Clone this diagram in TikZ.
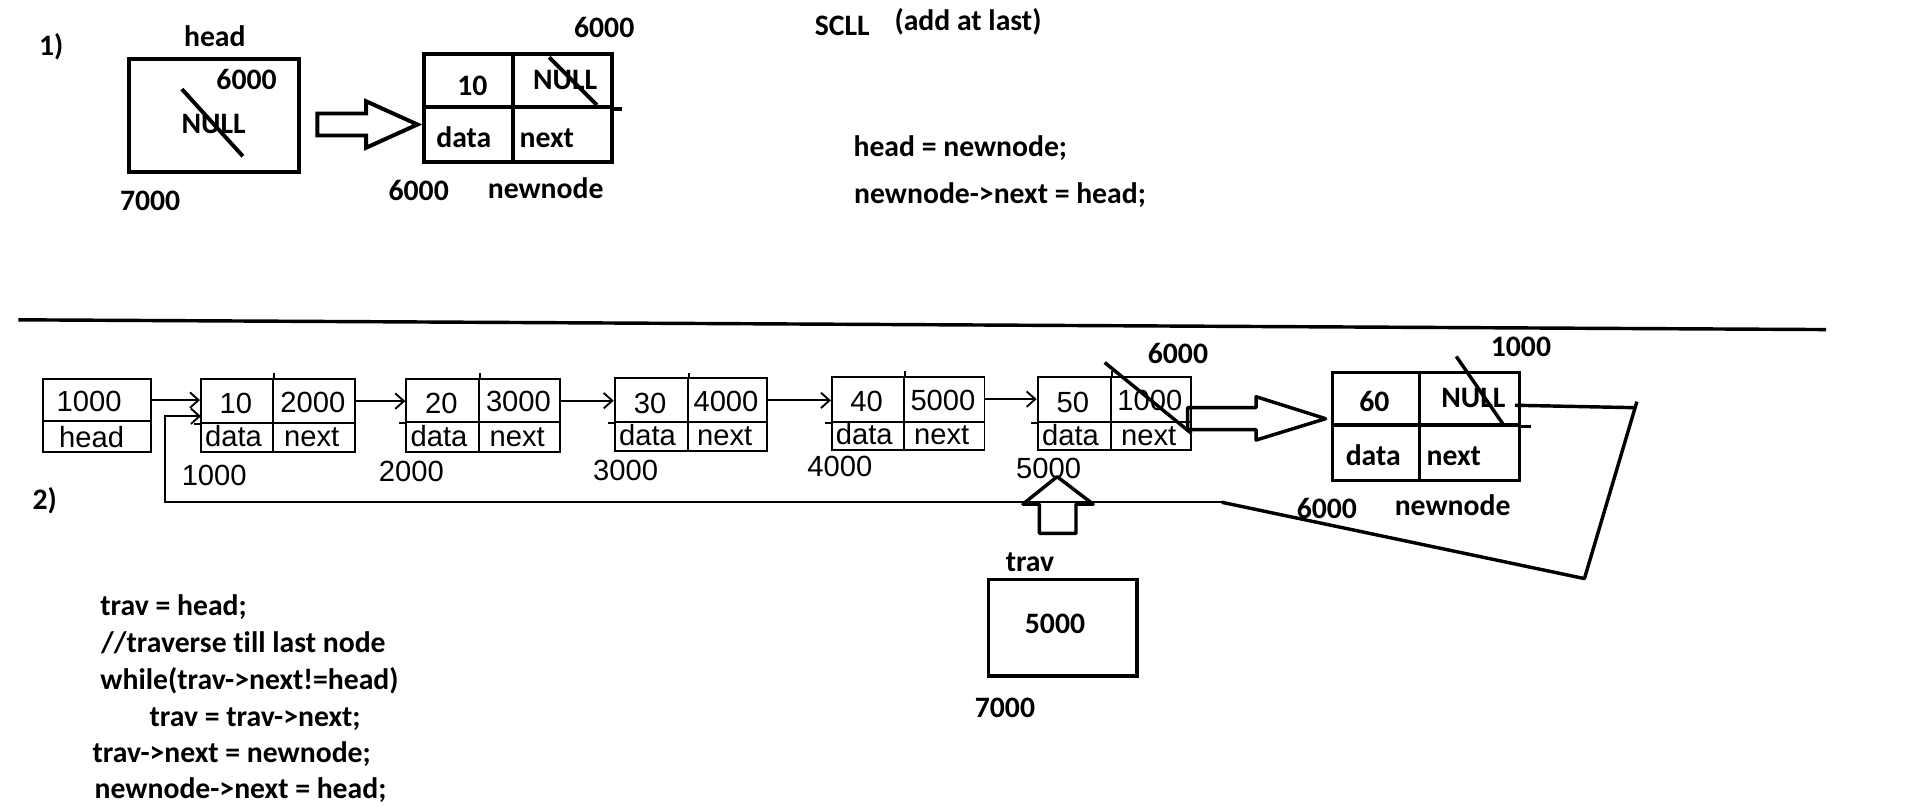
\documentclass[tikz,border=0pt]{standalone}
\usepackage{fontspec}
\setmainfont{Carlito}[Ligatures={TeX,NoCommon}]
\newfontfamily\lstf{Liberation Sans}
\usetikzlibrary{arrows.meta,calc}
\newcommand\U{0.025cm}
\tikzset{
  bt/.style={font=\fontsize{17.3pt}{20pt}\selectfont\bfseries, inner sep=0pt, text height=12pt, text depth=0pt},
  lt/.style={font=\lstf\fontsize{17pt}{20pt}\selectfont, inner sep=0pt, text height=12pt, text depth=0pt},
  thickln/.style={line width=2.3pt},
  thickln2/.style={line width=2pt, line join=round},
  thinln/.style={line width=1.1pt},
  lcell/.style={draw, line width=1.1pt, inner sep=0pt},
  bcell/.style={draw, line width=2.3pt, inner sep=0pt},
  bcell2/.style={draw, line width=2pt, inner sep=0pt},
  larrow/.style={line width=1.1pt, -{Straight Barb[length=5pt,width=9pt]}},
}
\newcommand\lnode[9]{%
 \node[lcell, minimum width={(#3-#2)*\U}, minimum height={(#6-#5)*\U}] (#1d) at ({(#2+#3)/2},{(#5+#6)/2}) {};
 \node[lcell, minimum width={(#4-#3)*\U}, minimum height={(#6-#5)*\U}] (#1n) at ({(#3+#4)/2},{(#5+#6)/2}) {};
 \node[lcell, minimum width={(#3-#2)*\U}, minimum height={(#7-#6)*\U}] (#1dl) at ({(#2+#3)/2},{(#6+#7)/2}) {};
 \node[lcell, minimum width={(#4-#3)*\U}, minimum height={(#7-#6)*\U}] (#1nl) at ({(#3+#4)/2},{(#6+#7)/2}) {};
 \draw[thinln] (#1d.north east) -- ++(0,-4);
 \draw[thinln] (#1d.south west) -- ++(-5,0);
 \node[lt] (#1dt) at ($(#1d.center)+(-1,2)$) {#8};
 \node[lt] (#1nt) at ($(#1n.center)+(-1,0.5)$) {#9};
 \node[lt] (#1dlt) at ($(#1dl.center)+(-3,-1)$) {data};
 \node[lt] (#1nlt) at ($(#1nl.center)+(-2,-1)$) {next};
}
\begin{document}
\begin{tikzpicture}[x=0.025cm,y=-0.025cm]
\fill[white] (0,0) rectangle (1568,663);
\useasboundingbox (0,0) rectangle (1568,663);

% ---------- part 1 ----------
\node[bt] (l1) at (42,37) {1)};
\node[bt] (headlbl) at (176,30) {head};
\node[bcell, minimum width={139*\U}, minimum height={93*\U}] (hbox) at (175.5,94.5) {};
\node[bt] (h6000) at (202,65) {6000};
\node[bt] (hnull) at (175,101) {NULL};
\draw[thickln] (149,73) -- (199,128);
\node[bt] (h7000) at (123,164) {7000};

\draw[thickln] (260,93) -- (300,93) -- (300,83) -- (342,102) -- (300,121) -- (300,111) -- (260,111) -- cycle;

\node[bcell, minimum width={73*\U}, minimum height={43.5*\U}] (nd) at (383.5,65.75) {};
\node[bcell, minimum width={81*\U}, minimum height={43.5*\U}] (nn) at (460.5,65.75) {};
\node[bcell, minimum width={73*\U}, minimum height={45.5*\U}] (ndl) at (383.5,110.25) {};
\node[bcell, minimum width={81*\U}, minimum height={45.5*\U}] (nnl) at (460.5,110.25) {};
\draw[thickln] (nn.south east) -- ++(7,0);
\node[bt] (nd10) at (387,70) {10};
\node[bt] (nnnull) at (463,65) {NULL};
\draw[thickln] (450,47) -- (489,86);
\node[bt] (ndlt) at (380,112) {data};
\node[bt] (nnlt) at (448,112) {next};
\node[bt] (n6000a) at (495,22) {6000};
\node[bt] (n6000b) at (343,156) {6000};
\node[bt] (nnlbl) at (447,154) {newnode};

\node[bt] (scll) at (690,20.5) {SCLL};
\node[bt] (addlast) at (793,16.5) {(add at last)};
\node[bt, anchor=west] (c1) at (699,120) {head = newnode;};
\node[bt, anchor=west] (c2) at (699.5,158) {newnode->next = head;};

\draw[line width=2pt] (15,262) -- (1496,270);

% ---------- part 2 ----------
\node[bt] (l2) at (36.6,409) {2)};

\node[lcell, minimum width={88*\U}, minimum height={34.5*\U}] (hv) at (79.5,327.75) {};
\node[lcell, minimum width={88*\U}, minimum height={25*\U}] (hl) at (79.5,357.5) {};
\node[lt] (hvt) at (73,329) {1000};
\node[lt] (hlt) at (75,358) {head};

\lnode{a}{164.6}{224}{290.7}{310.5}{346.7}{370}{10}{2000}
\lnode{b}{332.8}{392.5}{459}{310.5}{346}{370}{20}{3000}
\lnode{c}{503.5}{563.5}{628}{310}{346}{369.5}{30}{4000}
\lnode{e}{681.5}{740.5}{806.5}{308.5}{345.5}{368.5}{40}{5000}
\lnode{f}{850}{910}{976}{309}{346}{369}{50}{1000}

\node[lt] (aaddr) at (175.5,389) {1000};
\node[lt] (baddr) at (337,386) {2000};
\node[lt] (caddr) at (512.5,385) {3000};
\node[lt] (eaddr) at (688,382) {4000};
\node[lt] (faddr) at (859,383.5) {5000};

\draw[larrow] (hv.east) -- (hv.east -| ad.west);
\draw[larrow] (an.east) -- (an.east -| bd.west);
\draw[larrow] (bn.east) -- (bn.east -| cd.west);
\draw[larrow] (cn.east) -- (cn.east -| ed.west);
\draw[larrow] (en.east) -- (en.east -| fd.west);

% strike on last node
\draw[thickln2] (905,297) -- (976,355);
\node[bt] (f6000) at (965,289) {6000};

% block arrow to new node
\draw[thickln2] (973,334) -- (1029,334) -- (1029,325) -- (1086,343) -- (1029,360.5) -- (1029,352) -- (973,352) -- cycle;

% new node
\node[bcell2, minimum width={71.5*\U}, minimum height={43*\U}] (gd) at (1127.3,326.5) {};
\node[bcell2, minimum width={82*\U}, minimum height={43*\U}] (gn) at (1204,326.5) {};
\node[bcell2, minimum width={71.5*\U}, minimum height={45.7*\U}] (gdl) at (1127.3,370.85) {};
\node[bcell2, minimum width={82*\U}, minimum height={45.7*\U}] (gnl) at (1204,370.85) {};
\draw[thickln2] (gn.south east) -- ++(7.6,0);
\node[bt] (gdt) at (1126,329) {60};
\node[bt] (gnt) at (1207,325) {NULL};
\draw[thickln2] (1193,292) -- (1231,347);
\node[bt] (g1000) at (1246,284) {1000};
\node[bt] (gdlt) at (1125,373) {data};
\node[bt] (gnlt) at (1191,373) {next};
\node[bt] (g6000) at (1087,416) {6000};
\node[bt] (glbl) at (1190,414) {newnode};

% link back to first node
\coordinate (p0) at (1241,332);
\coordinate (p1) at (1340,334);
\coordinate (p1b) at (1341,329);
\coordinate (p2) at (1298,474);
\coordinate (rs) at (1001,411.5);
\coordinate (rc) at (135.5,411.5);
\coordinate (rin) at (164.6,341);
\draw[thickln2] (p0) -- (p1);
\draw[thickln2] (p1b) -- (p2) -- (rs);
\draw[larrow] (rs) -- (rc) |- (rin);

% trav
\draw[thickln2] (851.5,437) -- (851.5,413) -- (838,413) -- (866,390.5) -- (895.5,413) -- (881.5,413) -- (881.5,437) -- cycle;
\node[bt] (travlbl) at (843.8,460) {trav};
\node[bcell2, minimum width={122*\U}, minimum height={79*\U}] (trav) at (870.6,514.2) {};
\node[bt] (trav5000) at (864.3,510.6) {5000};
\node[bt] (trav7000) at (823.3,579) {7000};

% code
\node[bt, anchor=west] (k1) at (82,495.6) {trav = head;};
\node[bt, anchor=west] (k2) at (82.5,525.7) {//traverse till last node};
\node[bt, anchor=west] (k3) at (82,556.5) {while(trav->next!=head)};
\node[bt, anchor=west] (k4) at (122.3,587) {trav = trav->next;};
\node[bt, anchor=west] (k5) at (75.6,616.6) {trav->next = newnode;};
\node[bt, anchor=west] (k6) at (77.3,645.6) {newnode->next = head;};
\end{tikzpicture}
\end{document}
